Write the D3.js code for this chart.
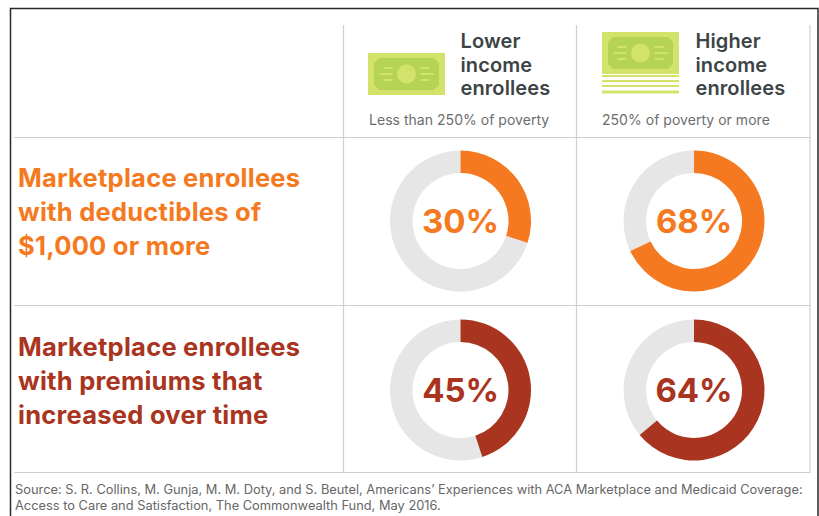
<!DOCTYPE html>
<html>
<head>
<meta charset="utf-8">
<script src="https://cdn.jsdelivr.net/npm/d3@7"></script>
<style>
html,body{margin:0;padding:0;background:#fff}
svg{display:block}
text{font-family:Inter,"Open Sans",sans-serif}
</style>
</head>
<body>
<svg id="chart" width="819" height="516"></svg>
<script>
// Survey shares, one array per measure, ordered lower income then higher income
const incomeGroups = ["Lower income enrollees", "Higher income enrollees"];
const deductibleShare = [30, 68];
const premiumShare = [45, 64];
const groupNotes = ["Less than 250% of poverty", "250% of poverty or more"];
const groupLines = [["Lower", "income", "enrollees"], ["Higher", "income", "enrollees"]];
const deductibleLines = ["Marketplace enrollees", "with deductibles of", "$1,000 or more"];
const premiumLines = ["Marketplace enrollees", "with premiums that", "increased over time"];
const sourceLines = [
  "Source: S. R. Collins, M. Gunja, M. M. Doty, and S. Beutel, Americans\u2019 Experiences with ACA Marketplace and Medicaid Coverage:",
  "Access to Care and Satisfaction, The Commonwealth Fund, May 2016."
];

const svg = d3.select("#chart");

// Outer frame: dark on the left and top, heavier on the right
svg.append("path").attr("d", "M10.5,516V8.5H818V516").attr("fill", "none").attr("stroke", "#2a2a2a").attr("stroke-width", 1.5);

// Table grid
const grid = svg.append("g").attr("stroke", "#cfcfcf").attr("stroke-width", 1.2);
[343.5, 576.5, 810].forEach(x => grid.append("line").attr("x1", x).attr("x2", x).attr("y1", 25).attr("y2", 473));
[137.5, 305.5, 472.5].forEach(y => grid.append("line").attr("x1", 14).attr("x2", 810).attr("y1", y).attr("y2", y));

// Banknote icon; the stacked variant adds the paper edges under a raised note
function banknote(g, x, y) {
  const w = 77, h = 42;
  g.append("rect").attr("x", x).attr("y", y).attr("width", w).attr("height", h).attr("fill", "#d2e26b");
  const n = 5, ix = x + 6, iy = y + 5, iw = w - 12, ih = h - 10;
  g.append("path").attr("fill", "#b5d455")
    .attr("d", `M${ix + n},${iy}H${ix + iw - n}L${ix + iw},${iy + n}V${iy + ih - n}L${ix + iw - n},${iy + ih}H${ix + n}L${ix},${iy + ih - n}V${iy + n}Z`);
  g.append("circle").attr("cx", x + w / 2).attr("cy", y + h / 2).attr("r", 9.5).attr("fill", "#d2e26b");
  const rows = [[-6, 9], [0, 13], [6, 9]];
  rows.forEach(([dy, len]) => {
    g.append("rect").attr("x", x + w / 2 - 14 - len).attr("y", y + h / 2 + dy - 1).attr("width", len).attr("height", 2).attr("fill", "#d2e26b");
    g.append("rect").attr("x", x + w / 2 + 14).attr("y", y + h / 2 + dy - 1).attr("width", len).attr("height", 2).attr("fill", "#d2e26b");
  });
}
const iconLayer = svg.append("g");
banknote(iconLayer, 368, 53);
banknote(iconLayer, 602, 32);
[75, 80, 85, 90.5].forEach((y, i) => iconLayer.append("rect").attr("x", 602).attr("y", y).attr("width", 77).attr("height", i === 3 ? 3 : 2).attr("fill", "#d2e26b"));

// Column headings
const columnX = d3.scalePoint().domain(incomeGroups).range([460.5, 695.5]);
const noteX = [369, 602];
incomeGroups.forEach((group, i) => {
  const head = svg.append("text").attr("fill", "#3c4446").attr("font-size", 20).attr("font-weight", 600).attr("letter-spacing", 0.1);
  groupLines[i].forEach((line, k) => head.append("tspan").attr("x", columnX(group)).attr("y", 48 + k * 23.5).text(line));
  svg.append("text").attr("x", noteX[i]).attr("y", 124.5).attr("font-size", 14).attr("letter-spacing", 0.03).attr("fill", "#6d6d6d").text(groupNotes[i]);
});

// Row headings
function rowHeading(lines, y0, colour) {
  const t = svg.append("text").attr("fill", colour).attr("font-size", 25.5).attr("font-weight", 700).attr("letter-spacing", 0.25);
  lines.forEach((line, k) => t.append("tspan").attr("x", 18).attr("y", y0 + k * 33.8).text(line));
}
rowHeading(deductibleLines, 187, "#f47920");
rowHeading(premiumLines, 356, "#a93420");

// Donuts
const share = d3.scaleLinear().domain([0, 100]).range([0, 2 * Math.PI]);
const arc = d3.arc().innerRadius(48).outerRadius(70.5);
const donutX = d3.scalePoint().domain(incomeGroups).range([460.5, 694]);

function donutRow(values, cy, colour) {
  values.forEach((v, i) => {
    const g = svg.append("g").attr("transform", `translate(${donutX(incomeGroups[i])},${cy})`);
    g.append("path").attr("fill", "#e6e6e6").attr("d", arc({ startAngle: share(v), endAngle: share(100) }));
    g.append("path").attr("fill", colour).attr("d", arc({ startAngle: share(0), endAngle: share(v) }));
    g.append("text").attr("text-anchor", "middle").attr("y", 12).attr("font-size", 33).attr("font-weight", 700).attr("letter-spacing", -0.1).attr("fill", colour).text(v + "%");
  });
}
donutRow(deductibleShare, 221, "#f47920");
donutRow(premiumShare, 390, "#a93420");

// Source note
const src = svg.append("text").attr("fill", "#666").attr("font-size", 12.85);
sourceLines.forEach((line, k) => src.append("tspan").attr("x", 15).attr("y", 494 + k * 15.5).text(line));
</script>
</body>
</html>
